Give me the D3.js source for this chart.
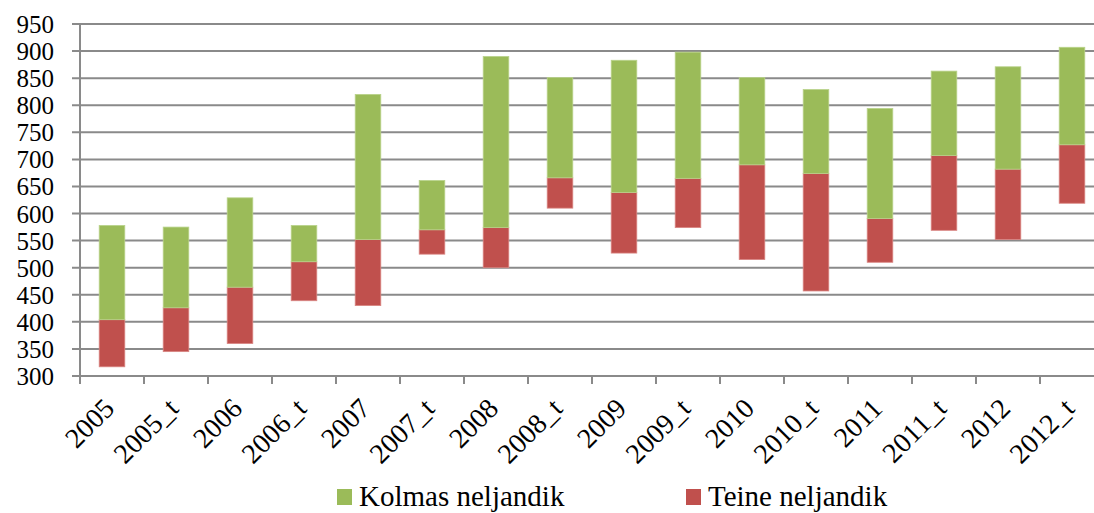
<!DOCTYPE html>
<html>
<head>
<meta charset="utf-8">
<script src="https://cdn.jsdelivr.net/npm/d3@7"></script>
</head>
<body style="margin:0; font-family: 'Liberation Serif', serif">
<div id="chart-area"></div>
<script>
const chartWidth = 1094
const chartHeight = 513
const margin = {top: 24, left: 80}
const plotW = 1024
const plotH = 352
const fontName = "Liberation Serif"

// categories and quartile values
const categories = ["2005", "2005_t", "2006", "2006_t", "2007", "2007_t", "2008", "2008_t",
    "2009", "2009_t", "2010", "2010_t", "2011", "2011_t", "2012", "2012_t"];
const lowValues    = [317, 345, 360, 439, 430, 525, 500, 610, 527, 574, 515, 457, 510, 569, 552, 619];
const medianValues = [404, 426, 464, 511, 552, 570, 574, 666, 639, 665, 690, 674, 591, 707, 682, 727];
const highValues   = [578, 575, 629, 578, 820, 661, 890, 851, 883, 898, 851, 829, 794, 863, 871, 907];
const yTicks = [300, 350, 400, 450, 500, 550, 600, 650, 700, 750, 800, 850, 900, 950];

const seriesNames = ["Kolmas neljandik", "Teine neljandik"];
const colors = {"Kolmas neljandik": "#9BBB59", "Teine neljandik": "#C0504D"};

const svg = d3.select("#chart-area").append("svg")
    .attr("width", chartWidth)
    .attr("height", chartHeight);

const g = svg.append("g")
    .attr("transform", `translate(${margin.left}, ${margin.top})`);

const x = d3.scaleBand()
    .domain(categories)
    .range([0, plotW])
    .paddingInner(0.6)
    .paddingOuter(0.3);

const y = d3.scaleLinear()
    .domain([300, 950])
    .range([plotH, 0]);

// gridlines
g.selectAll(".grid")
    .data(yTicks)
    .enter()
    .append("line")
    .attr("x1", -8)
    .attr("x2", plotW)
    .attr("y1", d => y(d))
    .attr("y2", d => y(d))
    .style("stroke", "#8a8a8a")
    .style("stroke-width", 2);

// y labels
g.selectAll(".ylab")
    .data(yTicks)
    .enter()
    .append("text")
    .attr("x", -26)
    .attr("y", d => y(d) + 9)
    .attr("text-anchor", "end")
    .attr("font-size", "25px")
    .style("font-family", fontName)
    .text(d => d);

// y axis line
g.append("line")
    .attr("x1", 0).attr("x2", 0)
    .attr("y1", 0).attr("y2", plotH + 8)
    .style("stroke", "#8a8a8a")
    .style("stroke-width", 2);

// x tick marks between categories
const step = x.step();
g.selectAll(".xtick")
    .data(d3.range(categories.length + 1))
    .enter()
    .append("line")
    .attr("x1", i => i * step)
    .attr("x2", i => i * step)
    .attr("y1", plotH)
    .attr("y2", plotH + 8)
    .style("stroke", "#8a8a8a")
    .style("stroke-width", 2);

// bars: red from low to median, green from median to high
const rows = categories.map((c, i) => ({cat: c, low: lowValues[i], med: medianValues[i], high: highValues[i]}));

g.selectAll(".red")
    .data(rows)
    .enter()
    .append("rect")
    .attr("x", d => x(d.cat))
    .attr("width", x.bandwidth())
    .attr("y", d => y(d.med))
    .attr("height", d => y(d.low) - y(d.med))
    .style("fill", colors["Teine neljandik"])
    .style("stroke", "#d98683")
    .style("stroke-width", 0.8);

g.selectAll(".green")
    .data(rows)
    .enter()
    .append("rect")
    .attr("x", d => x(d.cat))
    .attr("width", x.bandwidth())
    .attr("y", d => y(d.high))
    .attr("height", d => y(d.med) - y(d.high))
    .style("fill", colors["Kolmas neljandik"])
    .style("stroke", "#b9d38a")
    .style("stroke-width", 0.8);

// x labels rotated
g.selectAll(".xlab")
    .data(categories)
    .enter()
    .append("text")
    .attr("transform", d => `translate(${x(d) + x.bandwidth() / 2 + 4}, ${plotH + 34}) rotate(-45)`)
    .attr("text-anchor", "end")
    .attr("font-size", "28px")
    .style("font-family", fontName)
    .text(d => d);

// legend
const legendX = [337, 686];
const legend = svg.selectAll(".legend")
    .data(seriesNames)
    .enter()
    .append("g")
    .attr("transform", (d, i) => `translate(${legendX[i]}, 489)`);

legend.append("rect")
    .attr("width", 15)
    .attr("height", 16)
    .style("fill", d => colors[d]);

legend.append("text")
    .attr("x", 22)
    .attr("y", 17)
    .attr("font-size", "29px")
    .style("font-family", fontName)
    .text(d => d);
</script>
</body>
</html>
